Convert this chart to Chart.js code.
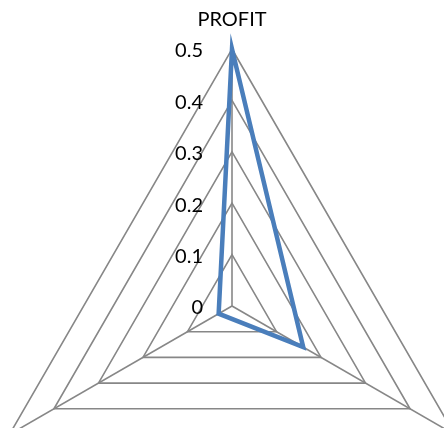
<!DOCTYPE html>
<html>
<head>
<meta charset="utf-8">
<script src="https://cdn.jsdelivr.net/npm/chart.js@4/dist/chart.umd.min.js"></script>
<style>
  body { margin: 0; background: #fff; }
  #wrap { width: 444px; height: 428px; position: relative; }
</style>
</head>
<body>
<div id="wrap"><canvas id="myChart"></canvas></div>
<script>
  // axis names, only the top one is in view
  const categories = ['PROFIT', '', ''];
  const profitValues = [0.5, 0.16, 0.03];
  const tickValues = [0, 0.1, 0.2, 0.3, 0.4, 0.5];

  const gridColor = '#878787';
  const lineColor = '#4a7ebb';

  // tick numbers sit left of the vertical axis, axis names outside the outer ring
  const radarText = {
    id: 'radarText',
    afterDraw: function(chart) {
      const scale = chart.scales.r;
      const ctx = chart.ctx;
      ctx.save();
      ctx.fillStyle = '#000';
      ctx.font = '20px Lato';
      ctx.textAlign = 'right';
      ctx.textBaseline = 'middle';
      tickValues.forEach(v => {
        const y = scale.yCenter - scale.getDistanceFromCenterForValue(v);
        ctx.fillText(String(v), scale.xCenter - 29, y + 2);
      });
      ctx.textAlign = 'center';
      categories.forEach((c, i) => {
        const p = scale.getPointPosition(i, scale.drawingArea + 29);
        ctx.fillText(c, p.x, p.y);
      });
      ctx.restore();
    }
  };

  const ctx = document.getElementById('myChart');

  new Chart(ctx, {
    type: 'radar',
    data: {
      labels: categories,
      datasets: [{
        data: profitValues,
        borderColor: lineColor,
        borderWidth: 4.5,
        backgroundColor: 'rgba(0,0,0,0)',
        fill: false,
        pointRadius: 0,
        tension: 0
      }]
    },
    options: {
      responsive: true,
      maintainAspectRatio: false,
      animation: false,
      events: [],
      layout: { padding: 0 },
      plugins: {
        legend: { display: false },
        tooltip: { enabled: false }
      },
      scales: {
        r: {
          min: 0,
          max: 0.5,
          ticks: { stepSize: 0.1, display: false },
          pointLabels: { display: false },
          grid: { color: gridColor, lineWidth: 1.6 },
          angleLines: { color: gridColor, lineWidth: 1.6 },
          // the plot is bigger than the canvas, the bottom corners run off the edge
          afterFit: function(scale) {
            scale.xCenter = 232;
            scale.yCenter = 306;
            scale.drawingArea = 257;
          }
        }
      }
    },
    plugins: [radarText]
  });
</script>
</body>
</html>
